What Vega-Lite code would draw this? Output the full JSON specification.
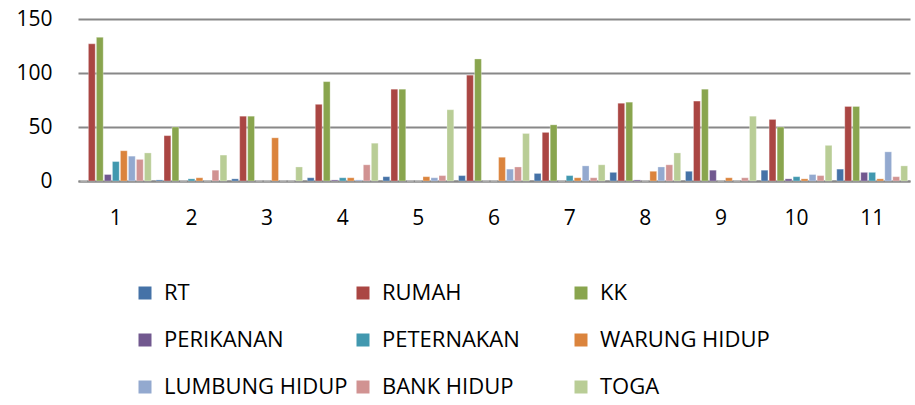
{
  "$schema": "https://vega.github.io/schema/vega-lite/v6.json",
  "width": 832,
  "height": 162,
  "autosize": "none",
  "padding": {"left": 78, "top": 19, "right": 5, "bottom": 224},
  "background": "white",
  "config": {
    "view": {"stroke": null},
    "font": "Open Sans"
  },
  "data": {
    "values": [
      {"g": "1", "s": "RT", "v": 0}, {"g": "1", "s": "RUMAH", "v": 127}, {"g": "1", "s": "KK", "v": 133}, {"g": "1", "s": "PERIKANAN", "v": 6}, {"g": "1", "s": "PETERNAKAN", "v": 18}, {"g": "1", "s": "WARUNG HIDUP", "v": 28}, {"g": "1", "s": "LUMBUNG HIDUP", "v": 23}, {"g": "1", "s": "BANK HIDUP", "v": 20}, {"g": "1", "s": "TOGA", "v": 26},
      {"g": "2", "s": "RT", "v": 1}, {"g": "2", "s": "RUMAH", "v": 42}, {"g": "2", "s": "KK", "v": 50}, {"g": "2", "s": "PERIKANAN", "v": 0}, {"g": "2", "s": "PETERNAKAN", "v": 2}, {"g": "2", "s": "WARUNG HIDUP", "v": 3}, {"g": "2", "s": "LUMBUNG HIDUP", "v": 0}, {"g": "2", "s": "BANK HIDUP", "v": 10}, {"g": "2", "s": "TOGA", "v": 24},
      {"g": "3", "s": "RT", "v": 2}, {"g": "3", "s": "RUMAH", "v": 60}, {"g": "3", "s": "KK", "v": 60}, {"g": "3", "s": "PERIKANAN", "v": 0}, {"g": "3", "s": "PETERNAKAN", "v": 0}, {"g": "3", "s": "WARUNG HIDUP", "v": 40}, {"g": "3", "s": "LUMBUNG HIDUP", "v": 0}, {"g": "3", "s": "BANK HIDUP", "v": 0}, {"g": "3", "s": "TOGA", "v": 13},
      {"g": "4", "s": "RT", "v": 3}, {"g": "4", "s": "RUMAH", "v": 71}, {"g": "4", "s": "KK", "v": 92}, {"g": "4", "s": "PERIKANAN", "v": 1}, {"g": "4", "s": "PETERNAKAN", "v": 3}, {"g": "4", "s": "WARUNG HIDUP", "v": 3}, {"g": "4", "s": "LUMBUNG HIDUP", "v": 1}, {"g": "4", "s": "BANK HIDUP", "v": 15}, {"g": "4", "s": "TOGA", "v": 35},
      {"g": "5", "s": "RT", "v": 4}, {"g": "5", "s": "RUMAH", "v": 85}, {"g": "5", "s": "KK", "v": 85}, {"g": "5", "s": "PERIKANAN", "v": 0}, {"g": "5", "s": "PETERNAKAN", "v": 0}, {"g": "5", "s": "WARUNG HIDUP", "v": 4}, {"g": "5", "s": "LUMBUNG HIDUP", "v": 3}, {"g": "5", "s": "BANK HIDUP", "v": 5}, {"g": "5", "s": "TOGA", "v": 66},
      {"g": "6", "s": "RT", "v": 5}, {"g": "6", "s": "RUMAH", "v": 98}, {"g": "6", "s": "KK", "v": 113}, {"g": "6", "s": "PERIKANAN", "v": 0}, {"g": "6", "s": "PETERNAKAN", "v": 0}, {"g": "6", "s": "WARUNG HIDUP", "v": 22}, {"g": "6", "s": "LUMBUNG HIDUP", "v": 11}, {"g": "6", "s": "BANK HIDUP", "v": 13}, {"g": "6", "s": "TOGA", "v": 44},
      {"g": "7", "s": "RT", "v": 7}, {"g": "7", "s": "RUMAH", "v": 45}, {"g": "7", "s": "KK", "v": 52}, {"g": "7", "s": "PERIKANAN", "v": 0}, {"g": "7", "s": "PETERNAKAN", "v": 5}, {"g": "7", "s": "WARUNG HIDUP", "v": 3}, {"g": "7", "s": "LUMBUNG HIDUP", "v": 14}, {"g": "7", "s": "BANK HIDUP", "v": 3}, {"g": "7", "s": "TOGA", "v": 15},
      {"g": "8", "s": "RT", "v": 8}, {"g": "8", "s": "RUMAH", "v": 72}, {"g": "8", "s": "KK", "v": 73}, {"g": "8", "s": "PERIKANAN", "v": 1}, {"g": "8", "s": "PETERNAKAN", "v": 0}, {"g": "8", "s": "WARUNG HIDUP", "v": 9}, {"g": "8", "s": "LUMBUNG HIDUP", "v": 13}, {"g": "8", "s": "BANK HIDUP", "v": 15}, {"g": "8", "s": "TOGA", "v": 26},
      {"g": "9", "s": "RT", "v": 9}, {"g": "9", "s": "RUMAH", "v": 74}, {"g": "9", "s": "KK", "v": 85}, {"g": "9", "s": "PERIKANAN", "v": 10}, {"g": "9", "s": "PETERNAKAN", "v": 0}, {"g": "9", "s": "WARUNG HIDUP", "v": 3}, {"g": "9", "s": "LUMBUNG HIDUP", "v": 0}, {"g": "9", "s": "BANK HIDUP", "v": 3}, {"g": "9", "s": "TOGA", "v": 60},
      {"g": "10", "s": "RT", "v": 10}, {"g": "10", "s": "RUMAH", "v": 57}, {"g": "10", "s": "KK", "v": 50}, {"g": "10", "s": "PERIKANAN", "v": 2}, {"g": "10", "s": "PETERNAKAN", "v": 4}, {"g": "10", "s": "WARUNG HIDUP", "v": 2}, {"g": "10", "s": "LUMBUNG HIDUP", "v": 6}, {"g": "10", "s": "BANK HIDUP", "v": 5}, {"g": "10", "s": "TOGA", "v": 33},
      {"g": "11", "s": "RT", "v": 11}, {"g": "11", "s": "RUMAH", "v": 69}, {"g": "11", "s": "KK", "v": 69}, {"g": "11", "s": "PERIKANAN", "v": 8}, {"g": "11", "s": "PETERNAKAN", "v": 8}, {"g": "11", "s": "WARUNG HIDUP", "v": 2}, {"g": "11", "s": "LUMBUNG HIDUP", "v": 27}, {"g": "11", "s": "BANK HIDUP", "v": 4}, {"g": "11", "s": "TOGA", "v": 14}
    ]
  },
  "mark": {"type": "bar", "stroke": "white", "strokeWidth": 0.5, "strokeOpacity": 0.6},
  "encoding": {
    "x": {
      "field": "g",
      "type": "ordinal",
      "sort": ["1", "2", "3", "4", "5", "6", "7", "8", "9", "10", "11"],
      "scale": {"paddingInner": 0, "paddingOuter": 0},
      "axis": {
        "title": null,
        "labelAngle": 0,
        "labelFontSize": 21,
        "labelColor": "#000000",
        "labelPadding": 26,
        "ticks": false,
        "domainColor": "#888888",
        "domainWidth": 2
      }
    },
    "xOffset": {
      "field": "s",
      "type": "nominal",
      "sort": ["RT", "RUMAH", "KK", "PERIKANAN", "PETERNAKAN", "WARUNG HIDUP", "LUMBUNG HIDUP", "BANK HIDUP", "TOGA"],
      "scale": {"paddingInner": 0.15, "paddingOuter": 0.3}
    },
    "y": {
      "field": "v",
      "type": "quantitative",
      "scale": {"domain": [0, 150], "nice": false},
      "axis": {
        "title": null,
        "values": [0, 50, 100, 150],
        "labelFontSize": 21,
        "labelColor": "#000000",
        "labelPadding": 26,
        "ticks": false,
        "domain": false,
        "gridColor": "#888888",
        "gridWidth": 2
      }
    },
    "color": {
      "field": "s",
      "type": "nominal",
      "scale": {
        "domain": ["RT", "RUMAH", "KK", "PERIKANAN", "PETERNAKAN", "WARUNG HIDUP", "LUMBUNG HIDUP", "BANK HIDUP", "TOGA"],
        "range": ["#4572A7", "#AA4643", "#89A54E", "#71588F", "#4198AF", "#DB843D", "#93A9CF", "#D19392", "#B9CD96"]
      },
      "legend": {
        "title": null,
        "orient": "none",
        "legendX": 56,
        "legendY": 263,
        "direction": "horizontal",
        "columns": 3,
        "gridAlign": "all",
        "columnPadding": 4,
        "rowPadding": 25,
        "symbolType": "square",
        "symbolSize": 169,
        "symbolStrokeWidth": 0,
        "labelFontSize": 22,
        "labelColor": "#000000",
        "labelOffset": 8,
        "labelLimit": 300
      }
    }
  }
}
